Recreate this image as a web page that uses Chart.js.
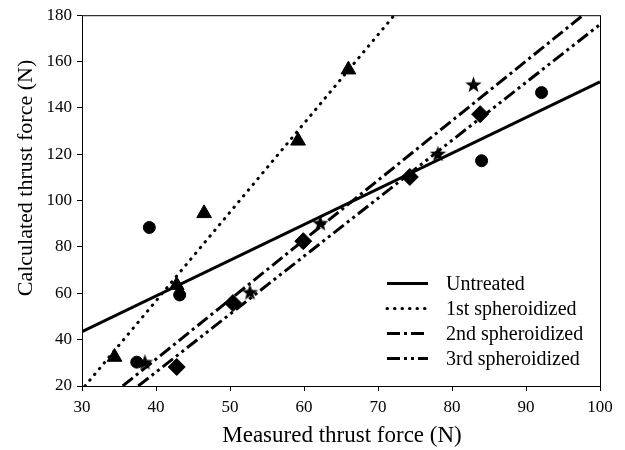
<!DOCTYPE html>
<html>
<head>
<meta charset="utf-8">
<script src="https://cdn.jsdelivr.net/npm/chart.js@4.4.0/dist/chart.umd.min.js"></script>
<style>
  html, body { margin: 0; padding: 0; background: #fff; }
  #wrap { width: 625px; height: 450px; }
</style>
</head>
<body>
<div id="wrap"><canvas id="thrustChart" width="625" height="450"></canvas></div>
<script>
// measured points
const untreatedX = [37.4, 39.1, 43.2, 84.0, 92.1];
const untreatedY = [30.3, 88.4, 59.3, 117.2, 146.6];
const firstX = [34.4, 42.8, 46.5, 59.2, 66.0];
const firstY = [32.5, 63.5, 94.5, 125.8, 156.5];
const secondX = [42.8, 50.4, 59.9, 74.3, 83.8];
const secondY = [28.2, 55.8, 82.5, 110.2, 137.3];
const thirdX = [38.5, 52.7, 62.2, 78.1, 82.9];
const thirdY = [30.4, 60.6, 90.4, 120.3, 150.2];

// fitted lines (end points)
const untreatedFitX = [30, 100];
const untreatedFitY = [43.4, 151.2];
const firstFitX = [30.4, 72.2];
const firstFitY = [20, 180];
const secondFitX = [35.5, 97.7];
const secondFitY = [20, 180];
const thirdFitX = [37.6, 100];
const thirdFitY = [20, 176];

const seriesNames = ['Untreated', '1st spheroidized', '2nd spheroidized', '3rd spheroidized'];
const xTicks = [30, 40, 50, 60, 70, 80, 90, 100];
const yTicks = [20, 40, 60, 80, 100, 120, 140, 160, 180];

const FONT = '"Liberation Serif", "Times New Roman", serif';

function pts(xs, ys) {
  return xs.map((x, i) => ({ x, y: ys[i] }));
}

// filled five point star, chart.js 'star' is only an outline cross
function makeStar(r) {
  const c = document.createElement('canvas');
  const s = Math.ceil(r * 2 + 2);
  c.width = s; c.height = s;
  const g = c.getContext('2d');
  g.fillStyle = '#000';
  g.beginPath();
  for (let i = 0; i < 10; i++) {
    const rr = i % 2 === 0 ? r : r * 0.42;
    const a = -Math.PI / 2 + i * Math.PI / 5;
    const px = s / 2 + rr * Math.cos(a);
    const py = s / 2 + rr * Math.sin(a) + 0.8;
    if (i === 0) g.moveTo(px, py); else g.lineTo(px, py);
  }
  g.closePath();
  g.fill();
  return c;
}
const starImg = makeStar(8.5);

function markerSet(data, style, radius) {
  return {
    type: 'scatter',
    data,
    pointStyle: style,
    pointRadius: radius,
    pointHoverRadius: radius,
    backgroundColor: '#000',
    borderColor: '#000',
    borderWidth: 1,
    showLine: false,
    isFit: false
  };
}

function fitSet(label, data, dash, cap) {
  return {
    type: 'line',
    label,
    data,
    borderColor: '#000',
    borderWidth: 3,
    borderDash: dash,
    borderCapStyle: cap,
    pointRadius: 0,
    fill: false,
    tension: 0,
    isFit: true
  };
}

const frameAndLegend = {
  id: 'frameAndLegend',
  afterDraw(chart) {
    const { ctx, chartArea: a } = chart;
    ctx.save();
    ctx.strokeStyle = '#000';
    ctx.lineWidth = 1;
    ctx.strokeRect(a.left + 0.5, a.top + 0.5, a.right - a.left, a.bottom - a.top);

    // legend inside plot, lower right
    const fits = chart.data.datasets.filter(d => d.isFit);
    ctx.font = '20px ' + FONT;
    ctx.fillStyle = '#000';
    ctx.textBaseline = 'middle';
    ctx.textAlign = 'left';
    fits.forEach((d, i) => {
      const y = 283.5 + i * 25;
      ctx.beginPath();
      ctx.lineWidth = d.borderWidth;
      ctx.lineCap = d.borderCapStyle;
      ctx.setLineDash(d.borderDash);
      ctx.moveTo(387, y);
      ctx.lineTo(428, y);
      ctx.stroke();
      ctx.setLineDash([]);
      ctx.fillText(d.label, 446, y + 1);
    });

    // axis titles
    ctx.font = '23px ' + FONT;
    ctx.textAlign = 'center';
    ctx.textBaseline = 'alphabetic';
    ctx.fillText('Measured thrust force (N)', 342, 442);
    ctx.font = '22px ' + FONT;
    ctx.translate(32, 178);
    ctx.rotate(-Math.PI / 2);
    ctx.fillText('Calculated thrust force (N)', 0, 0);
    ctx.restore();
  }
};

const ctx = document.getElementById('thrustChart').getContext('2d');
new Chart(ctx, {
  type: 'scatter',
  data: {
    datasets: [
      fitSet(seriesNames[0], pts(untreatedFitX, untreatedFitY), [], 'butt'),
      fitSet(seriesNames[1], pts(firstFitX, firstFitY), [0.5, 7], 'round'),
      fitSet(seriesNames[2], pts(secondFitX, secondFitY), [13, 4, 3, 4], 'butt'),
      fitSet(seriesNames[3], pts(thirdFitX, thirdFitY), [13, 4, 3, 4, 3, 4], 'butt'),
      markerSet(pts(untreatedX, untreatedY), 'circle', 6),
      markerSet(pts(firstX, firstY), 'triangle', 8.5),
      markerSet(pts(secondX, secondY), 'rectRot', 8.5),
      markerSet(pts(thirdX, thirdY), starImg, 9)
    ]
  },
  options: {
    responsive: false,
    animation: false,
    devicePixelRatio: 1,
    layout: { padding: { top: 12, right: 25, left: 0, bottom: 0 } },
    plugins: { legend: { display: false }, tooltip: { enabled: false } },
    scales: {
      x: {
        type: 'linear',
        min: 30, max: 100,
        afterBuildTicks: s => { s.ticks = xTicks.map(v => ({ value: v })); },
        afterFit: s => { s.height = 64; },
        border: { display: false },
        grid: { drawOnChartArea: false, drawTicks: true, tickLength: 5, color: '#000', tickWidth: 1 },
        ticks: { color: '#000', padding: 6, maxRotation: 0, font: { family: FONT, size: 17 } }
      },
      y: {
        type: 'linear',
        min: 20, max: 180,
        afterBuildTicks: s => { s.ticks = yTicks.map(v => ({ value: v })); },
        afterFit: s => { s.width = 82; },
        border: { display: false },
        grid: { drawOnChartArea: false, drawTicks: true, tickLength: 5, color: '#000', tickWidth: 1 },
        ticks: { color: '#000', padding: 5, font: { family: FONT, size: 17 } }
      }
    }
  },
  plugins: [frameAndLegend]
});
</script>
</body>
</html>
